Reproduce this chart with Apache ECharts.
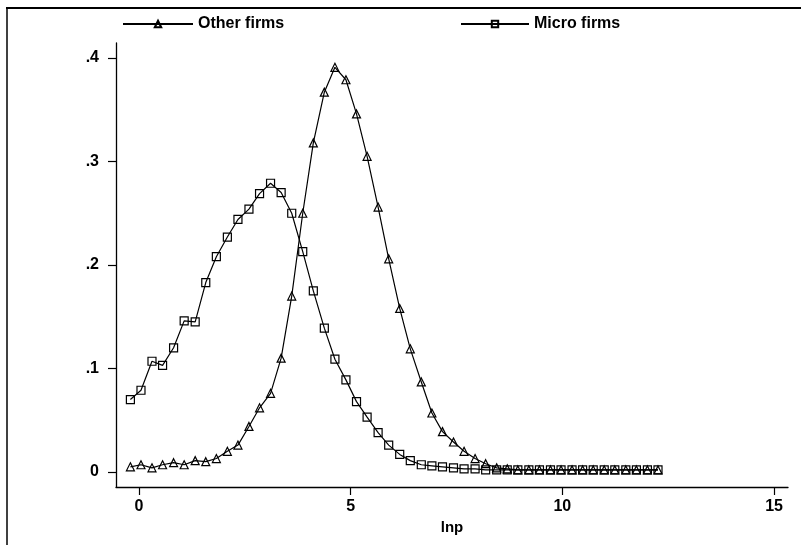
<!DOCTYPE html>
<html>
<head>
<meta charset="utf-8">
<script src="https://cdn.jsdelivr.net/npm/echarts@6/dist/echarts.min.js"></script>
<style>
html,body{margin:0;padding:0;background:#fff;}
#chart{width:801px;height:545px;}
</style>
</head>
<body>
<div id="chart"></div>
<script>
// Evaluation points (lnp)
var lnp = [-0.20, 0.05, 0.31, 0.56, 0.82, 1.07, 1.33, 1.58, 1.83, 2.09,
           2.34, 2.60, 2.85, 3.11, 3.36, 3.61, 3.87, 4.12, 4.38, 4.63,
           4.89, 5.14, 5.39, 5.65, 5.90, 6.16, 6.41, 6.67, 6.92, 7.17,
           7.43, 7.68, 7.94, 8.19, 8.45, 8.70, 8.95, 9.21, 9.46, 9.72,
           9.97, 10.23, 10.48, 10.73, 10.99, 11.24, 11.50, 11.75, 12.01, 12.26];

// Density: other firms (triangles)
var otherFirms = [0.005, 0.007, 0.004, 0.007, 0.009, 0.007, 0.011, 0.010, 0.013, 0.020,
                  0.026, 0.044, 0.062, 0.076, 0.110, 0.170, 0.250, 0.318, 0.367, 0.391,
                  0.379, 0.346, 0.305, 0.256, 0.206, 0.158, 0.119, 0.087, 0.057, 0.039,
                  0.029, 0.020, 0.013, 0.008, 0.004, 0.003, 0.002, 0.002, 0.002, 0.002,
                  0.002, 0.002, 0.002, 0.002, 0.002, 0.002, 0.002, 0.002, 0.002, 0.002];

// Density: micro firms (squares)
var microFirms = [0.070, 0.079, 0.107, 0.103, 0.120, 0.146, 0.145, 0.183, 0.208, 0.227,
                  0.244, 0.254, 0.269, 0.279, 0.270, 0.250, 0.213, 0.175, 0.139, 0.109,
                  0.089, 0.068, 0.053, 0.038, 0.026, 0.017, 0.011, 0.007, 0.006, 0.005,
                  0.004, 0.003, 0.003, 0.002, 0.002, 0.002, 0.002, 0.002, 0.002, 0.002,
                  0.002, 0.002, 0.002, 0.002, 0.002, 0.002, 0.002, 0.002, 0.002, 0.002];

var xTicks = [0, 5, 10, 15];
var yTicks = [0, 0.1, 0.2, 0.3, 0.4];
var seriesNames = ['Other firms', 'Micro firms'];

function pairs(xs, ys) {
  var out = [];
  for (var i = 0; i < xs.length; i++) out.push([xs[i], ys[i]]);
  return out;
}

var FONT = '"Liberation Sans", Arial, sans-serif';
var chart = echarts.init(document.getElementById('chart'), null, {renderer: 'canvas'});

var legendText = {color: '#000', fontFamily: FONT, fontSize: 16, fontWeight: 'bold'};

chart.setOption({
  backgroundColor: '#fff',
  animation: false,
  graphic: [
    {type: 'line', shape: {x1: 6, y1: 8, x2: 801, y2: 8}, style: {stroke: '#000', lineWidth: 2}},
    {type: 'line', shape: {x1: 7, y1: 8, x2: 7, y2: 545}, style: {stroke: '#000', lineWidth: 1.5}}
  ],
  legend: [
    {data: [seriesNames[0]], left: 117, top: 11, itemWidth: 70, itemHeight: 8, itemGap: 0,
     textStyle: legendText, selectedMode: false},
    {data: [seriesNames[1]], left: 455, top: 11, itemWidth: 68, itemHeight: 8, itemGap: 0,
     textStyle: legendText, selectedMode: false}
  ],
  grid: {left: 116, right: 13, top: 43, bottom: 58, containLabel: false},
  xAxis: {
    type: 'value',
    min: -0.54, max: 15.33,
    name: 'lnp', nameLocation: 'middle', nameGap: 33,
    nameTextStyle: {color: '#000', fontFamily: FONT, fontSize: 15, fontWeight: 'bold'},
    axisLine: {show: true, onZero: false, lineStyle: {color: '#000', width: 1.3}},
    axisTick: {show: true, inside: false, length: 8, customValues: xTicks, lineStyle: {color: '#000', width: 1.2}},
    axisLabel: {show: true, margin: 12, customValues: xTicks, color: '#000', fontFamily: FONT, fontSize: 16, fontWeight: 'bold'},
    splitLine: {show: false}
  },
  yAxis: {
    type: 'value',
    min: -0.0145, max: 0.4145,
    axisLine: {show: true, onZero: false, lineStyle: {color: '#000', width: 1.3}},
    axisTick: {show: true, inside: false, length: 8, customValues: yTicks, lineStyle: {color: '#000', width: 1.2}},
    axisLabel: {show: true, margin: 17, customValues: yTicks, color: '#000', fontFamily: FONT, fontSize: 16, fontWeight: 'bold',
      formatter: function (v) { return v === 0 ? '0' : String(v).replace(/^0/, ''); }},
    splitLine: {show: false}
  },
  series: [
    {
      name: seriesNames[0], type: 'line', data: pairs(lnp, otherFirms),
      symbol: 'triangle', symbolSize: 8, showAllSymbol: true,
      lineStyle: {color: '#000', width: 1.2},
      itemStyle: {color: 'rgba(255,255,255,0)', borderColor: '#000', borderWidth: 1.2},
      emphasis: {disabled: true}, z: 3
    },
    {
      name: seriesNames[1], type: 'line', data: pairs(lnp, microFirms),
      symbol: 'rect', symbolSize: 8, showAllSymbol: true,
      lineStyle: {color: '#000', width: 1.2},
      itemStyle: {color: 'rgba(255,255,255,0)', borderColor: '#000', borderWidth: 1.2},
      emphasis: {disabled: true}, z: 2
    }
  ]
});
</script>
</body>
</html>
